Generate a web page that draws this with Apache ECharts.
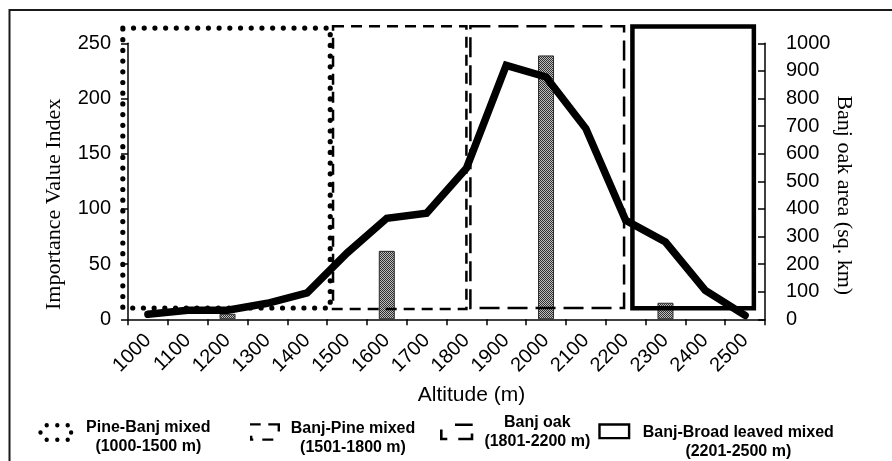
<!DOCTYPE html>
<html><head><meta charset="utf-8">
<script src="https://cdn.jsdelivr.net/npm/echarts@6/dist/echarts.min.js"></script>
<style>html,body{margin:0;padding:0;background:#fff}#c{width:892px;height:461px}</style>
</head><body><div id="c"></div>
<script>
// ---- data ----
const altitudes = ['1000','1100','1200','1300','1400','1500','1600','1700','1800','1900','2000','2100','2200','2300','2400','2500'];
const banjOakIVI = [null, null, 5, null, null, null, 62, null, null, null, 239, null, null, 15, null, null];
const banjOakArea = [18, 33, 33, 58, 96, 240, 366, 384, 547, 920, 878, 691, 359, 280, 105, 14];
const iviTicks = [0, 50, 100, 150, 200, 250];
const areaTicks = [0, 100, 200, 300, 400, 500, 600, 700, 800, 900, 1000];
const zoneNames = ['Pine-Banj mixed', 'Banj-Pine mixed', 'Banj oak', 'Banj-Broad leaved mixed'];
const zoneRanges = ['(1000-1500 m)', '(1501-1800 m)', '(1801-2200 m)', '(2201-2500 m)'];
const zoneFrom = [937, 1465, 1810, 2217];   // altitude (m)
const zoneTo = [1458, 1800, 2196, 2522];
const zoneBase = [41, 37, 41, 40];          // sq. km scale
const zoneTop = [1055, 1062, 1062, 1061];

// ---- styles ----
const SANS = "'Liberation Sans', Arial, sans-serif";
const SERIF = "'Liberation Serif', 'Times New Roman', serif";
const zoneStyles = [
  {lineWidth: 5.2, lineDash: [0, 10.7], lineCap: 'round'},
  {lineWidth: 2.5, lineDash: [11, 7]},
  {lineWidth: 2.5, lineDash: [20, 8]},
  {lineWidth: 4.5}
];
function dot(x, y, r) { return 'M' + (x - r) + ' ' + y + 'a' + r + ' ' + r + ' 0 1 0 ' + (2 * r) + ' 0a' + r + ' ' + r + ' 0 1 0 ' + (-2 * r) + ' 0Z'; }
function rc(x, y, w, h) { return 'M' + x + ' ' + y + 'L' + (x + w) + ' ' + y + 'L' + (x + w) + ' ' + (y + h) + 'L' + x + ' ' + (y + h) + 'Z'; }
const legendIcons = [
  'path://' + [[8.4,2.2],[19,2.2],[29.4,2.2],[2.2,9.5],[32.8,9.5],[8.4,16.8],[19,16.8],[29.4,16.8]].map(p => dot(p[0], p[1], 2.2)).join(''),
  'path://' + rc(0,0,10.7,2.4) + rc(18.3,0,11.7,2.4) + rc(27.6,0,2.4,8.3) + rc(0,12.7,2.4,5) + rc(0,15.3,3.3,2.4) + rc(12.3,15.3,11,2.4),
  'path://' + rc(0,6,2.6,10.7) + rc(0,14.3,7.3,2.4) + rc(15,0,17.7,2.6) + rc(18.3,14.3,15,2.4) + rc(30.7,10,2.6,6.7),
  'path://M0 0L32 0L32 16L0 16ZM2.4 2.4L2.4 13.6L29.6 13.6L29.6 2.4Z'
];
const legendLayout = [
  {left: 38.3, w: 35, h: 19, cy: 432.5, tw: 140, pad: 10},
  {left: 250, w: 30, h: 17.7, cy: 432, tw: 136, pad: 12},
  {left: 440, w: 33.3, h: 16.7, cy: 431.8, tw: 118, pad: 0},
  {left: 598.3, w: 32, h: 16, cy: 431.3, tw: 206, pad: 22}
];

function makePattern() {
  const c = document.createElement('canvas');
  c.width = 2; c.height = 2;
  const g = c.getContext('2d');
  g.fillStyle = '#bdbdbd'; g.fillRect(0, 0, 2, 2);
  g.fillStyle = '#303030'; g.fillRect(0, 0, 1, 1); g.fillRect(1, 1, 1, 1);
  return c;
}

const chart = echarts.init(document.getElementById('c'), null, {renderer: 'canvas'});

const zoneSeries = zoneNames.map((nm, i) => ({
  type: 'custom',
  name: nm,
  xAxisIndex: 1,
  yAxisIndex: 1,
  clip: false,
  z: 3,
  silent: true,
  itemStyle: {color: '#000'},
  encode: {x: [0, 1], y: [2, 3]},
  data: [[zoneFrom[i], zoneTo[i], zoneBase[i], zoneTop[i]]],
  renderItem: function (params, api) {
    const a = api.coord([api.value(0), api.value(3)]);
    const b = api.coord([api.value(1), api.value(2)]);
    return {
      type: 'rect',
      shape: {x: a[0], y: a[1], width: b[0] - a[0], height: b[1] - a[1]},
      style: Object.assign({fill: 'none', stroke: '#000'}, zoneStyles[i])
    };
  }
}));

const legends = zoneNames.map((nm, i) => {
  const L = legendLayout[i];
  return {
    orient: 'horizontal',
    left: L.left,
    top: L.cy - (L.pad + 38) / 2,
    padding: 0,
    itemWidth: L.w,
    itemHeight: L.h,
    selectedMode: false,
    data: [{name: nm, icon: legendIcons[i], itemStyle: {color: '#000', borderWidth: 0}}],
    formatter: function (name) {
      const k = zoneNames.indexOf(name);
      return '{t|' + name + '}\n{t|' + zoneRanges[k] + '}';
    },
    textStyle: {
      padding: [L.pad, 0, 0, 0],
      lineHeight: 19,
      rich: {t: {width: L.tw, align: 'center', fontSize: 16, fontWeight: 'bold', fontFamily: SANS, lineHeight: 19, color: '#000'}}
    }
  };
});

const option = {
  animation: false,
  backgroundColor: '#fff',
  grid: {left: 128, right: 127, top: 43.3, bottom: 141.7, outerBoundsMode: 'none', containLabel: false},
  graphic: [{
    type: 'polyline', silent: true,
    shape: {points: [[9.5, 461], [9.5, 10], [892, 10]]},
    style: {stroke: '#1a1a1a', lineWidth: 2, fill: 'none'}
  }],
  legend: legends,
  xAxis: [{
    type: 'category',
    data: altitudes,
    position: 'bottom',
    boundaryGap: true,
    name: 'Altitude (m)',
    nameLocation: 'middle',
    nameGap: 65,
    nameMoveOverlap: false,
    nameTextStyle: {fontFamily: SANS, fontSize: 21, color: '#000', padding: [0, 0, 0, 50]},
    axisLine: {show: true, lineStyle: {color: '#000', width: 1.5}},
    axisTick: {show: true, length: 6, lineStyle: {color: '#000', width: 1.5}},
    axisLabel: {interval: 0, rotate: 45, margin: 18, fontFamily: SANS, fontSize: 20, color: '#000'},
    splitLine: {show: false}
  }, {
    type: 'value',
    show: false,
    min: 950,
    max: 2550,
    position: 'bottom'
  }],
  yAxis: [{
    type: 'value',
    position: 'left',
    min: iviTicks[0],
    max: iviTicks[iviTicks.length - 1],
    interval: iviTicks[1] - iviTicks[0],
    name: 'Importance Value Index',
    nameLocation: 'middle',
    nameGap: 63,
    nameRotate: 90,
    nameMoveOverlap: false,
    nameTextStyle: {fontFamily: SERIF, fontSize: 22, color: '#000', padding: [0, 46, 0, 0]},
    axisLine: {show: true, lineStyle: {color: '#000', width: 1.5}},
    axisTick: {show: true, inside: false, length: 7, lineStyle: {color: '#000', width: 1.5}},
    axisLabel: {margin: 17, fontFamily: SANS, fontSize: 20, color: '#000', formatter: v => String(v)},
    splitLine: {show: false}
  }, {
    type: 'value',
    position: 'right',
    min: areaTicks[0],
    max: areaTicks[areaTicks.length - 1],
    interval: areaTicks[1] - areaTicks[0],
    name: 'Banj oak area (sq. km)',
    nameLocation: 'middle',
    nameGap: 68,
    nameRotate: -90,
    nameMoveOverlap: false,
    nameTextStyle: {fontFamily: SERIF, fontSize: 22, color: '#000', padding: [0, 0, 0, 28]},
    axisLine: {show: true, lineStyle: {color: '#000', width: 1.5}},
    axisTick: {show: true, inside: true, length: 7, lineStyle: {color: '#000', width: 1.5}},
    axisLabel: {margin: 21, fontFamily: SANS, fontSize: 20, color: '#000', formatter: v => String(v)},
    splitLine: {show: false}
  }],
  series: [{
    type: 'bar',
    name: 'Importance Value Index',
    xAxisIndex: 0,
    yAxisIndex: 0,
    barWidth: 16,
    z: 2,
    silent: true,
    itemStyle: {color: {image: makePattern(), repeat: 'repeat'}, borderColor: '#2a2a2a', borderWidth: 1},
    data: banjOakIVI
  }, {
    type: 'line',
    name: 'Banj oak area',
    xAxisIndex: 0,
    yAxisIndex: 1,
    z: 4,
    silent: true,
    showSymbol: false,
    symbol: 'none',
    lineStyle: {color: '#000', width: 7.5, cap: 'round', join: 'miter'},
    data: banjOakArea
  }].concat(zoneSeries)
};
chart.setOption(option);
</script>
</body></html>
